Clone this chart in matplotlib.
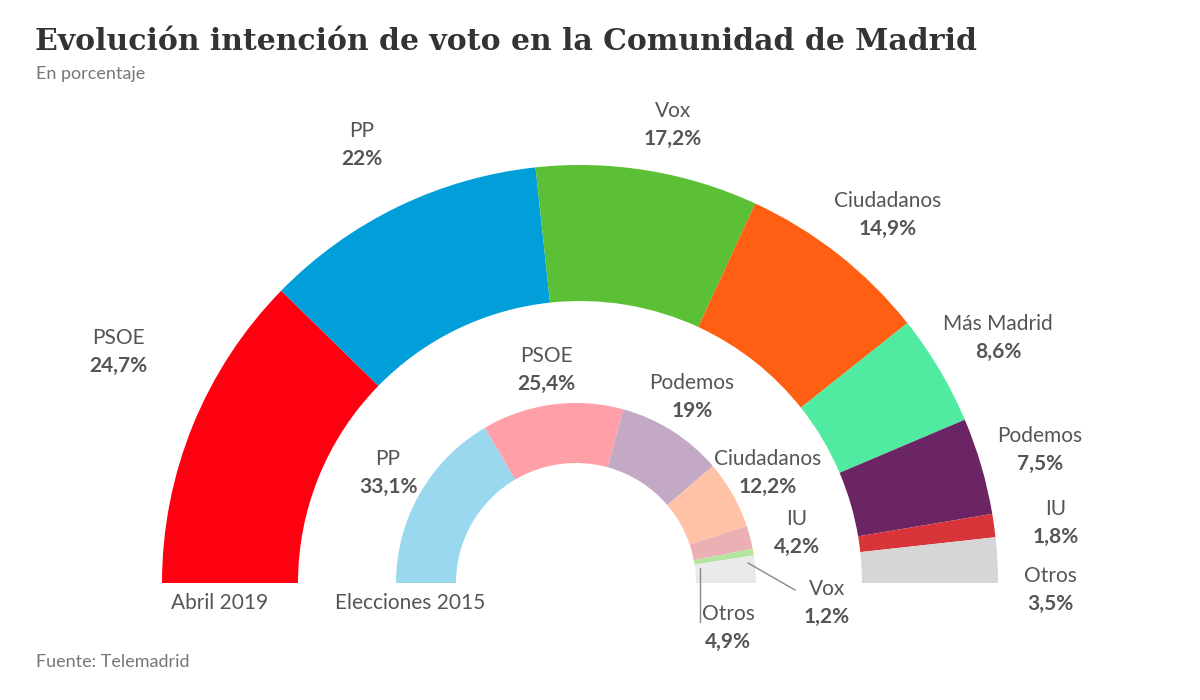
import matplotlib.pyplot as plt
from matplotlib.patches import Wedge

# Abril 2019 (outer ring)
partidos_2019 = ["PSOE", "PP", "Vox", "Ciudadanos", "Más Madrid", "Podemos", "IU", "Otros"]
votos_2019 = [24.7, 22, 17.2, 14.9, 8.6, 7.5, 1.8, 3.5]
colores_2019 = ["#ff0010", "#009fd9", "#5bc035", "#ff5f13", "#50eba0", "#6b2464", "#d7353a", "#d6d6d6"]
etiquetas_2019 = ["24,7%", "22%", "17,2%", "14,9%", "8,6%", "7,5%", "1,8%", "3,5%"]

# Elecciones 2015 (inner ring)
partidos_2015 = ["PP", "PSOE", "Podemos", "Ciudadanos", "IU", "Vox", "Otros"]
votos_2015 = [33.1, 25.4, 19, 12.2, 4.2, 1.2, 4.9]
colores_2015 = ["#9ad8f0", "#ffa0a8", "#c3a9c4", "#ffc2a6", "#eab0b4", "#b4e4a0", "#eaeaea"]
etiquetas_2015 = ["33,1%", "25,4%", "19%", "12,2%", "4,2%", "1,2%", "4,9%"]

plt.rcParams['font.family'] = ['Lato', 'DejaVu Sans']
fig = plt.figure(figsize=(12, 7), dpi=100)
ax = fig.add_axes([0, 0, 1, 1])
ax.set_xlim(0, 1200); ax.set_ylim(700, 0); ax.axis("off")

def anillo(cx, cy, r, ancho, valores, colores):
    total = sum(valores)
    ang = 180.0
    for v, c in zip(valores, colores):
        paso = 180.0 * v / total
        # y axis inverted: use negative angles so the ring opens upwards
        ax.add_patch(Wedge((cx, cy), r, -ang, -(ang - paso), width=ancho, color=c, lw=0))
        ang -= paso

anillo(580, 583, 418, 136, votos_2019, colores_2019)
anillo(576, 583, 180, 60, votos_2015, colores_2015)

gris = "#555555"
pos_2019 = [(118, 352), (362, 145), (673, 125), (888, 215), (998, 338), (1040, 450), (1056, 523), (1050, 590)]
for (x, y), n, e in zip(pos_2019, partidos_2019, etiquetas_2019):
    ax.text(x, y - 14, n, ha="center", va="center", fontsize=15, color=gris)
    ax.text(x, y + 14, e, ha="center", va="center", fontsize=15, color=gris, fontweight="bold")

pos_2015 = [(388, 473), (546, 370), (692, 397), (768, 473), (797, 533), (827, 603), (728, 628)]
for (x, y), n, e in zip(pos_2015, partidos_2015, etiquetas_2015):
    ax.text(x, y - 14, n, ha="center", va="center", fontsize=15, color=gris)
    ax.text(x, y + 14, e, ha="center", va="center", fontsize=15, color=gris, fontweight="bold")

ax.plot([748, 795], [563, 590], color="#888888", lw=1)
ax.plot([700, 700], [568, 622], color="#888888", lw=1)

ax.text(220, 603, "Abril 2019", ha="center", va="center", fontsize=15, color=gris)
ax.text(410, 603, "Elecciones 2015", ha="center", va="center", fontsize=15, color=gris)

ax.text(35, 42, "Evolución intención de voto en la Comunidad de Madrid", fontsize=21.5,
        fontweight="bold", color="#333333", family=["DejaVu Serif"], va="center")
ax.text(36, 74, "En porcentaje", fontsize=13, color="#777777", va="center")
ax.text(36, 662, "Fuente: Telemadrid", fontsize=13, color="#777777", va="center")

fig.savefig("out.png", dpi=100, facecolor="white")
